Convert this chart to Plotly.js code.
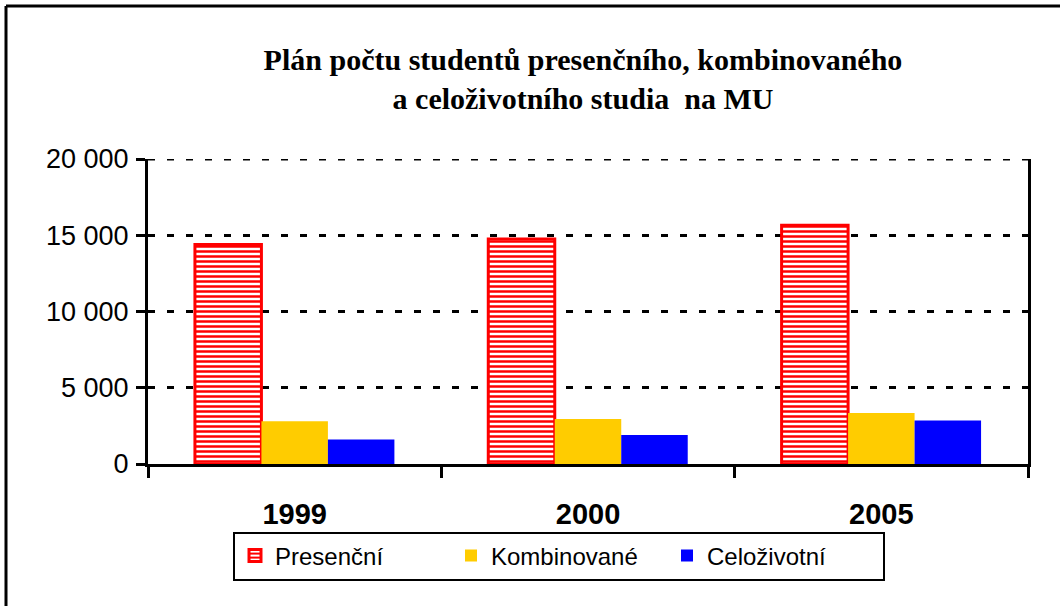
<!DOCTYPE html>
<html>
<head>
<meta charset="utf-8">
<script src="https://cdn.plot.ly/plotly-3.0.1.min.js"></script>
<style>html,body{margin:0;padding:0;background:#fff;}#chart{width:1060px;height:606px;}</style>
</head>
<body>
<div id="chart"></div>
<script>
const years = ['1999', '2000', '2005'];
const seriesNames = ['Presenční', 'Kombinované', 'Celoživotní'];
const presencni = [14400, 14750, 15650];
const kombinovane = [2800, 2950, 3350];
const celozivotni = [1600, 1900, 2850];
const yTicks = [0, 5000, 10000, 15000, 20000];
const yMax = 20000;
const titleText = 'Plán počtu studentů presenčního, kombinovaného<br>a celoživotního studia  na MU';

const traces = [
  {type: 'bar', name: seriesNames[0], x: years, y: presencni,
   marker: {color: '#ff0000', line: {color: '#ff0000', width: 3},
            pattern: {shape: '-', fgcolor: '#ff0000', bgcolor: '#ffffff', fgopacity: 1, size: 5, solidity: 0.5, fillmode: 'replace'}}},
  {type: 'bar', name: seriesNames[1], x: years, y: kombinovane,
   marker: {color: '#ffcc00', line: {width: 0}}},
  {type: 'bar', name: seriesNames[2], x: years, y: celozivotni,
   marker: {color: '#0000ff', line: {width: 0}}}
];

const W = 880, H = 305;
const px = v => (v - 148) / W;
const py = v => (464 - v) / H;

const layout = {
  width: 1060, height: 606,
  margin: {l: 148, r: 32, t: 159, b: 142},
  paper_bgcolor: '#ffffff', plot_bgcolor: '#ffffff',
  separators: ', ',
  barmode: 'group', bargap: 0.32, bargroupgap: 0,
  showlegend: true,
  hovermode: false,
  title: {text: titleText, x: 583/1060, xanchor: 'center', xref: 'container',
          y: 1 - 70/606, yanchor: 'top', yref: 'container',
          font: {family: 'Liberation Serif', size: 30, color: '#000', weight: 'bold'}},
  xaxis: {type: 'category', showline: true, linecolor: '#000', linewidth: 3,
          ticks: 'outside', tickson: 'boundaries', ticklen: 11, tickwidth: 3, tickcolor: '#000',
          showgrid: false, zeroline: false, ticklabelstandoff: 22,
          tickfont: {family: 'Liberation Sans', size: 29, color: '#000', weight: 'bold'}},
  yaxis: {range: [0, yMax], tickvals: yTicks, tickformat: ',d',
          showline: true, linecolor: '#000', linewidth: 3, mirror: true,
          ticks: 'outside', ticklen: 9, tickwidth: 3, tickcolor: '#000',
          showgrid: true, gridcolor: '#000', gridwidth: 3, griddash: '7px,12px',
          zeroline: false, ticklabelstandoff: 2,
          tickfont: {family: 'Liberation Sans', size: 27, color: '#000'}},
  legend: {orientation: 'h', x: px(233), xanchor: 'left', y: py(556), yanchor: 'middle',
           bordercolor: '#000', borderwidth: 2, bgcolor: '#fff',
           entrywidth: 171, entrywidthmode: 'pixels',
           font: {family: 'Liberation Sans', size: 24, color: '#000'}},
  shapes: [
    {type: 'line', xref: 'paper', yref: 'y', x0: 0, x1: 1, y0: yMax, y1: yMax, layer: 'below', line: {color: '#000', width: 3, dash: '7px,12px'}},
    {type: 'line', xref: 'paper', yref: 'paper', x0: px(6), x1: px(1062), y0: py(6), y1: py(6), line: {color: '#000', width: 3}},
    {type: 'line', xref: 'paper', yref: 'paper', x0: px(6), x1: px(6), y0: py(6), y1: py(608), line: {color: '#000', width: 3}}
  ]
};

Plotly.newPlot('chart', traces, layout, {displayModeBar: false, staticPlot: true});
</script>
</body>
</html>
